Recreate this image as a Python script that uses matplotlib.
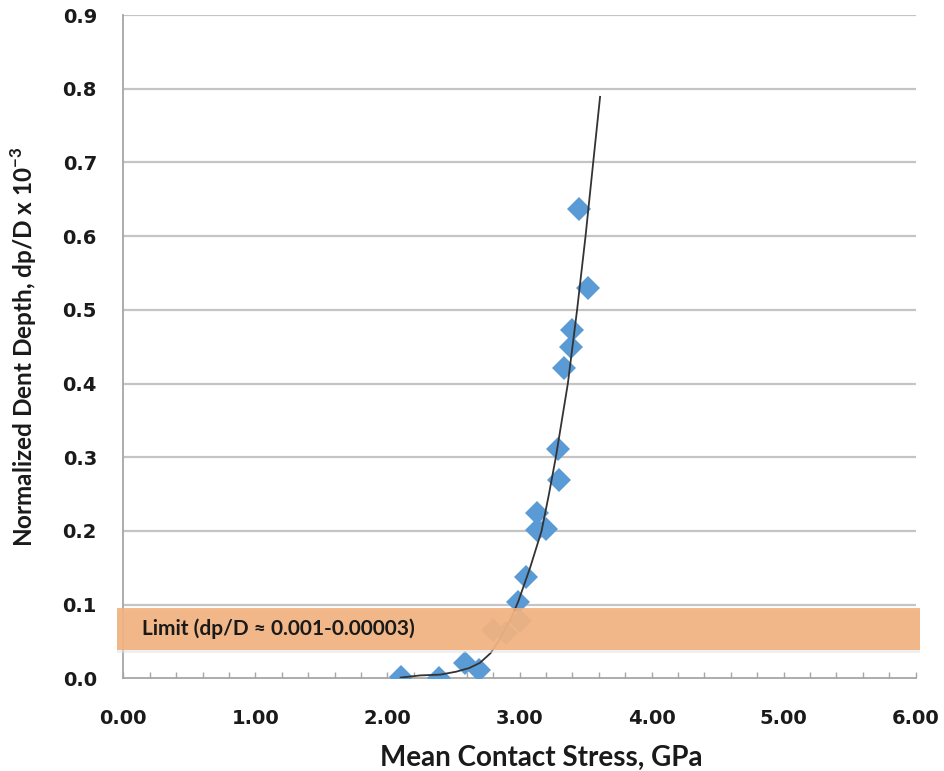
## Normalized dent depth vs mean contact stress
import numpy as np
import matplotlib.pyplot as plt
from matplotlib.patches import Rectangle
from matplotlib.ticker import MultipleLocator

# Measured points (GPa, dp/D x 1e-3)
stress = [2.10, 2.39, 2.59, 2.69, 2.80, 2.90, 3.00, 2.99, 3.05, 3.13, 3.13,
          3.20, 3.30, 3.29, 3.34, 3.39, 3.40, 3.52, 3.45]
depth = [0.002, 0.001, 0.021, 0.011, 0.066, 0.061, 0.078, 0.104, 0.138, 0.224,
         0.201, 0.202, 0.269, 0.311, 0.421, 0.450, 0.472, 0.530, 0.637]

# Trend line
trend_x = [2.10, 2.25, 2.40, 2.52, 2.62, 2.70, 2.78, 2.85, 2.93, 2.99, 3.08, 3.167,
           3.223, 3.275, 3.366, 3.436, 3.50, 3.558, 3.61]
trend_y = [0.001, 0.004, 0.005, 0.009, 0.014, 0.021, 0.034, 0.053, 0.079, 0.104, 0.150,
           0.200, 0.250, 0.300, 0.400, 0.500, 0.600, 0.700, 0.789]

# Limit band
limit_lo, limit_hi = 0.039, 0.096
limit_text = "Limit (dp/D \u2248 0.001-0.00003)"

x_ticks = [0, 1, 2, 3, 4, 5, 6]
y_ticks = [0.0, 0.1, 0.2, 0.3, 0.4, 0.5, 0.6, 0.7, 0.8, 0.9]

fig = plt.figure(figsize=(9.45, 7.71), dpi=100)
ax = fig.add_axes([0.1305, 0.1202, 0.8385, 0.8603])

for y in y_ticks[1:]:
    ax.axhline(y, color='#c4c4c4', lw=1.6, zorder=1)

ax.plot(stress, depth, 'D', color='#5b9bd5', markersize=12, markeredgewidth=0, zorder=3)
ax.plot(trend_x, trend_y, '-', color='#333333', lw=1.3, zorder=4)

# band on top of the points (faded look), with a soft shadow
ax.add_patch(Rectangle((-0.045, limit_lo - 0.004), 6.08, limit_hi - limit_lo,
                       facecolor='#e0e0e0', edgecolor='none', alpha=0.5,
                       clip_on=False, zorder=4))
ax.add_patch(Rectangle((-0.05, limit_lo), 6.08, limit_hi - limit_lo,
                       facecolor='#f2b07a', edgecolor='none', alpha=0.88,
                       clip_on=False, zorder=5))
ax.text(0.14, (limit_lo + limit_hi) / 2, limit_text, fontsize=15, fontweight='bold',
        family='Lato', color='#1a1a1a', va='center', ha='left', zorder=6)

ax.set_xlim(0, 6)
ax.set_ylim(0, 0.9)
ax.set_xticks(x_ticks)
ax.set_xticklabels(["%.2f" % v for v in x_ticks])
ax.set_yticks(y_ticks)
ax.set_yticklabels(["%.1f" % v for v in y_ticks])
ax.xaxis.set_minor_locator(MultipleLocator(0.2))

for s in ['top', 'right']:
    ax.spines[s].set_visible(False)
for s in ['left', 'bottom']:
    ax.spines[s].set_color('#a6a6a6')
    ax.spines[s].set_linewidth(1.3)

ax.tick_params(axis='x', which='both', direction='in', length=4, color='#a6a6a6',
               width=1, pad=22, labelsize=14)
ax.tick_params(axis='y', length=0, pad=19, labelsize=14)
for lab in ax.get_xticklabels() + ax.get_yticklabels():
    lab.set_fontweight('bold')
    lab.set_color('#1a1a1a')

ax.set_xlabel("Mean Contact Stress, GPa", family='Lato', fontweight='bold',
              fontsize=20, color='#1a1a1a')
ax.set_ylabel(r"Normalized Dent Depth, dp/D x 10$^{\mathregular{-3}}$", family='Lato',
              fontweight='bold', fontsize=17.5, color='#1a1a1a')
ax.xaxis.set_label_coords(0.528, -0.1)
ax.yaxis.set_label_coords(-0.106, 0.5)

plt.savefig("out.png", dpi=100)
